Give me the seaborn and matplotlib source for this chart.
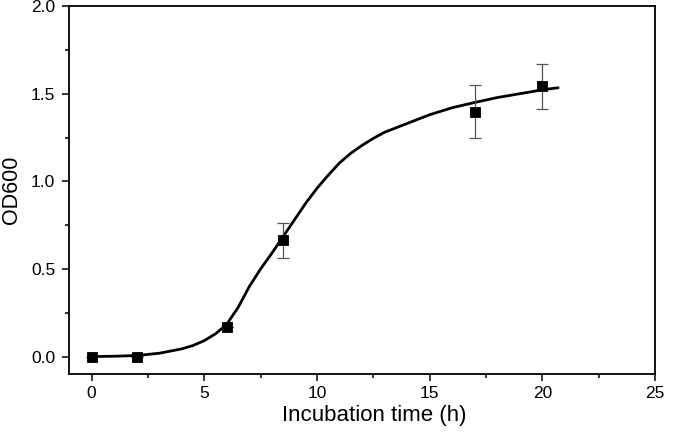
import seaborn as sns
import matplotlib.pyplot as plt
from matplotlib.ticker import MultipleLocator
import pandas as pd

# measured points (mean +/- error)
time_h = [0, 2, 6, 8.5, 17, 20]
od600 = [0.0, 0.0, 0.167, 0.665, 1.398, 1.542]
od_err = [0.0, 0.0, 0.0, 0.10, 0.15, 0.13]

# fitted growth curve
fit_x = [0, 1, 2, 3, 4, 4.5, 5, 5.5, 6, 6.5, 7, 7.5, 8, 8.5, 9, 9.5, 10,
         10.5, 11, 11.5, 12, 12.5, 13, 14, 15, 16, 17, 18, 19, 20, 20.7]
fit_y = [0.0, 0.002, 0.006, 0.019, 0.044, 0.063, 0.091, 0.13, 0.185, 0.28,
         0.40, 0.50, 0.59, 0.685, 0.78, 0.875, 0.96, 1.035, 1.105, 1.16,
         1.205, 1.245, 1.28, 1.33, 1.38, 1.42, 1.45, 1.478, 1.50, 1.522, 1.534]

pts = pd.DataFrame({'t': time_h, 'od': od600, 'err': od_err})
fit = pd.DataFrame({'t': fit_x, 'od': fit_y})

sns.set_style('ticks')
plt.rcParams['font.family'] = ['Liberation Sans', 'DejaVu Sans']
plt.rcParams['text.color'] = 'black'
plt.rcParams['axes.labelcolor'] = 'black'
plt.rcParams['xtick.color'] = 'black'
plt.rcParams['ytick.color'] = 'black'

fig = plt.figure(figsize=(6.77, 4.34), dpi=100)
ax = fig.add_axes([0.102, 0.138, 0.8655, 0.848])

sns.lineplot(data=fit, x='t', y='od', ax=ax, color='black', lw=2.0)
ax.errorbar(pts['t'], pts['od'], yerr=pts['err'], fmt='none', ecolor='#555555',
            elinewidth=0.9, capsize=4, capthick=0.9, zorder=3)
sns.scatterplot(data=pts, x='t', y='od', ax=ax, marker='s', s=60, color='black',
                edgecolor='black', zorder=4)

ax.set_xlim(-1, 25)
ax.set_ylim(-0.1, 2.0)
ax.xaxis.set_major_locator(MultipleLocator(5))
ax.xaxis.set_minor_locator(MultipleLocator(2.5))
ax.yaxis.set_major_locator(MultipleLocator(0.5))
ax.yaxis.set_minor_locator(MultipleLocator(0.25))
ax.yaxis.set_major_formatter(plt.FormatStrFormatter('%.1f'))

ax.tick_params(which='major', length=5, width=1.1, labelsize=12.5, direction='out')
ax.tick_params(axis='x', which='major', pad=3.5)
ax.tick_params(axis='y', which='major', pad=5)
ax.tick_params(which='minor', length=3, width=1.1, direction='out')
ax.tick_params(top=False, right=False, which='both')
for sp in ax.spines.values():
    sp.set_visible(True)
    sp.set_linewidth(1.3)
    sp.set_color('black')

ax.set_xlabel('Incubation time (h)', fontsize=16, labelpad=4)
ax.set_ylabel('OD600', fontsize=15.5, labelpad=6)
# label in the reference sits a little right of the axes centre
ax.xaxis.set_label_coords(0.521, -0.085)

plt.savefig('out.png', dpi=100)
